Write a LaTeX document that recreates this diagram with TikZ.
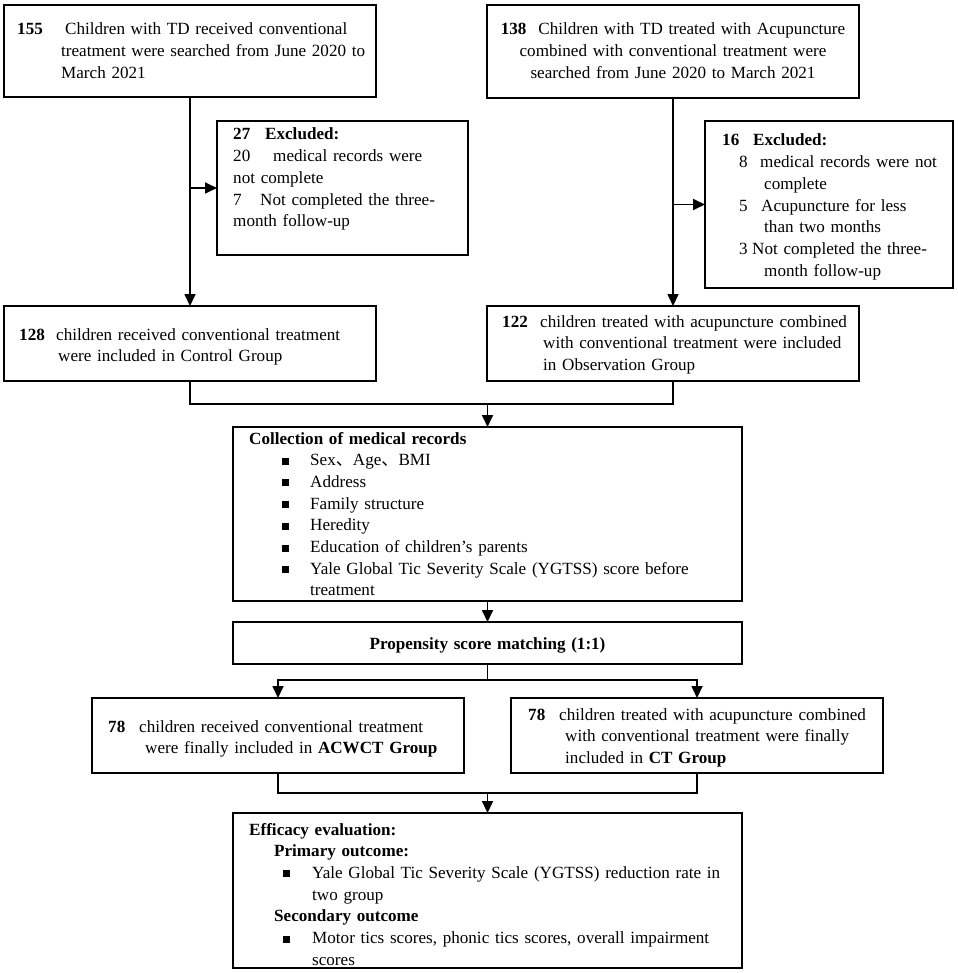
\documentclass[tikz,border=0pt]{standalone}
\usepackage{fontspec}
\setmainfont{Liberation Serif}
\newfontfamily\cjk{Noto Sans CJK SC}
\usetikzlibrary{arrows.meta,calc}
\newcommand\sqbul{\rule[1pt]{7pt}{7pt}}
\tikzset{
  bx/.style={draw, line width=1.7pt, inner sep=0pt, outer sep=0pt, line join=miter},
  txt/.style={inner sep=0pt, align=left, anchor=base west, font=\fontsize{17.1pt}{21.7pt}\selectfont},
  ctxt/.style={inner sep=0pt, align=center, anchor=base, font=\fontsize{17.1pt}{21.7pt}\selectfont},
  ln/.style={line width=1.7pt, line join=miter},
  arr/.style={ln, -{Triangle[width=11pt,length=12pt]}}
}
\begin{document}
\begin{tikzpicture}[x=1pt,y=-1pt]
\fill[white] (0,0) rectangle (957,973);
\useasboundingbox (0,0) rectangle (957,973);

% boxes
\node[bx, minimum width=372pt, minimum height=92pt] (tl) at (190,51) {};
\node[bx, minimum width=372pt, minimum height=93pt] (tr) at (673,51.5) {};
\node[bx, minimum width=251pt, minimum height=134pt] (exl) at (342.5,188) {};
\node[bx, minimum width=248pt, minimum height=167pt] (exr) at (829,204.5) {};
\node[bx, minimum width=372pt, minimum height=75pt] (cl) at (190,343.5) {};
\node[bx, minimum width=372pt, minimum height=75pt] (ob) at (673,343.5) {};
\node[bx, minimum width=509pt, minimum height=174pt] (col) at (487.5,514) {};
\node[bx, minimum width=509pt, minimum height=42pt] (prop) at (487.5,643) {};
\node[bx, minimum width=372pt, minimum height=75pt] (fl) at (278,735.5) {};
\node[bx, minimum width=372pt, minimum height=75pt] (fr) at (697,735.5) {};
\node[bx, minimum width=509pt, minimum height=155pt] (eff) at (487.5,890.5) {};

% texts
\node[txt, text width=355pt] (tltx) at (17,35) {\makebox[48pt][l]{\textbf{155}}Children with TD received conventional\\
\hspace*{44pt}treatment were searched from June 2020 to\\
\hspace*{44pt}March 2021};

\node[ctxt, text width=372pt] (trtx) at (673,35) {\textbf{138}\hspace{12pt}Children with TD treated with Acupuncture\\
combined with conventional treatment were\\
searched from June 2020 to March 2021};

\node[txt, text width=232pt] (exltx) at (233,140) {\makebox[32pt][l]{\textbf{27}}\textbf{Excluded:}\\
\makebox[40pt][l]{20}medical records were\\
not complete\\
\makebox[27pt][l]{7}Not completed the three-\\
month follow-up};

\node[txt, text width=228pt] (exrtx) at (722,146) {\makebox[31pt][l]{\textbf{16}}\textbf{Excluded:}\\
\hspace*{17pt}\makebox[21pt][l]{8}medical records were not\\
\hspace*{42pt}complete\\
\hspace*{17pt}\makebox[22pt][l]{5}Acupuncture for less\\
\hspace*{42pt}than two months\\
\hspace*{17pt}\makebox[13pt][l]{3}Not completed the three-\\
\hspace*{42pt}month follow-up};

\node[txt, text width=355pt] (cltx) at (19,340) {\makebox[37pt][l]{\textbf{128}}children received conventional treatment\\
\hspace*{39pt}were included in Control Group};

\node[txt, text width=355pt] (obtx) at (502,327) {\makebox[38pt][l]{\textbf{122}}children treated with acupuncture combined\\
\hspace*{41pt}with conventional treatment were included\\
\hspace*{41pt}in Observation Group};

\node[txt, text width=490pt] (coltx) at (249,444) {\textbf{Collection of medical records}\\
\hspace*{33pt}\makebox[28pt][l]{\sqbul}Sex{\cjk 、}Age{\cjk 、}BMI\\
\hspace*{33pt}\makebox[28pt][l]{\sqbul}Address\\
\hspace*{33pt}\makebox[28pt][l]{\sqbul}Family structure\\
\hspace*{33pt}\makebox[28pt][l]{\sqbul}Heredity\\
\hspace*{33pt}\makebox[28pt][l]{\sqbul}Education of children’s parents\\
\hspace*{33pt}\makebox[28pt][l]{\sqbul}Yale Global Tic Severity Scale (YGTSS) score before\\
\hspace*{61pt}treatment};

\node[ctxt, text width=500pt] (proptx) at (487.5,649) {\textbf{Propensity score matching (1:1)}};

\node[txt, text width=355pt] (fltx) at (108,732) {\makebox[31pt][l]{\textbf{78}}children received conventional treatment\\
\hspace*{37pt}were finally included in \textbf{ACWCT Group}};

\node[txt, text width=355pt] (frtx) at (528,720) {\makebox[31pt][l]{\textbf{78}}children treated with acupuncture combined\\
\hspace*{37pt}with conventional treatment were finally\\
\hspace*{37pt}included in \textbf{CT Group}};

\node[txt, text width=490pt] (efftx) at (249,835) {\textbf{Efficacy evaluation:}\\
\hspace*{25pt}\textbf{Primary outcome:}\\
\hspace*{34pt}\makebox[29pt][l]{\sqbul}Yale Global Tic Severity Scale (YGTSS) reduction rate in\\
\hspace*{63pt}two group\\
\hspace*{25pt}\textbf{Secondary outcome}\\
\hspace*{34pt}\makebox[29pt][l]{\sqbul}Motor tics scores, phonic tics scores, overall impairment\\
\hspace*{63pt}scores};

% connectors
\draw[arr] (tl.south) -- (cl.north);
\draw[arr] (tl.south |- exl.west) -- (exl.west);
\draw[arr] (tr.south) -- (ob.north);
\draw[arr] (tr.south |- exr.west) -- (exr.west);

\draw[ln] (cl.south) -- ++(0,23) -| (ob.south);
\draw[arr] ($(col.north)+(0,-23)$) -- (col.north);

\draw[arr] (col.south) -- (prop.north);

\draw[ln] (prop.south) -- ++(0,16) coordinate (sp);
\draw[arr] (sp) -| (fl.north);
\draw[arr] (sp) -| (fr.north);

\draw[ln] (fl.south) -- ++(0,20) -| (fr.south);
\draw[arr] ($(eff.north)+(0,-20)$) -- (eff.north);
\end{tikzpicture}
\end{document}
